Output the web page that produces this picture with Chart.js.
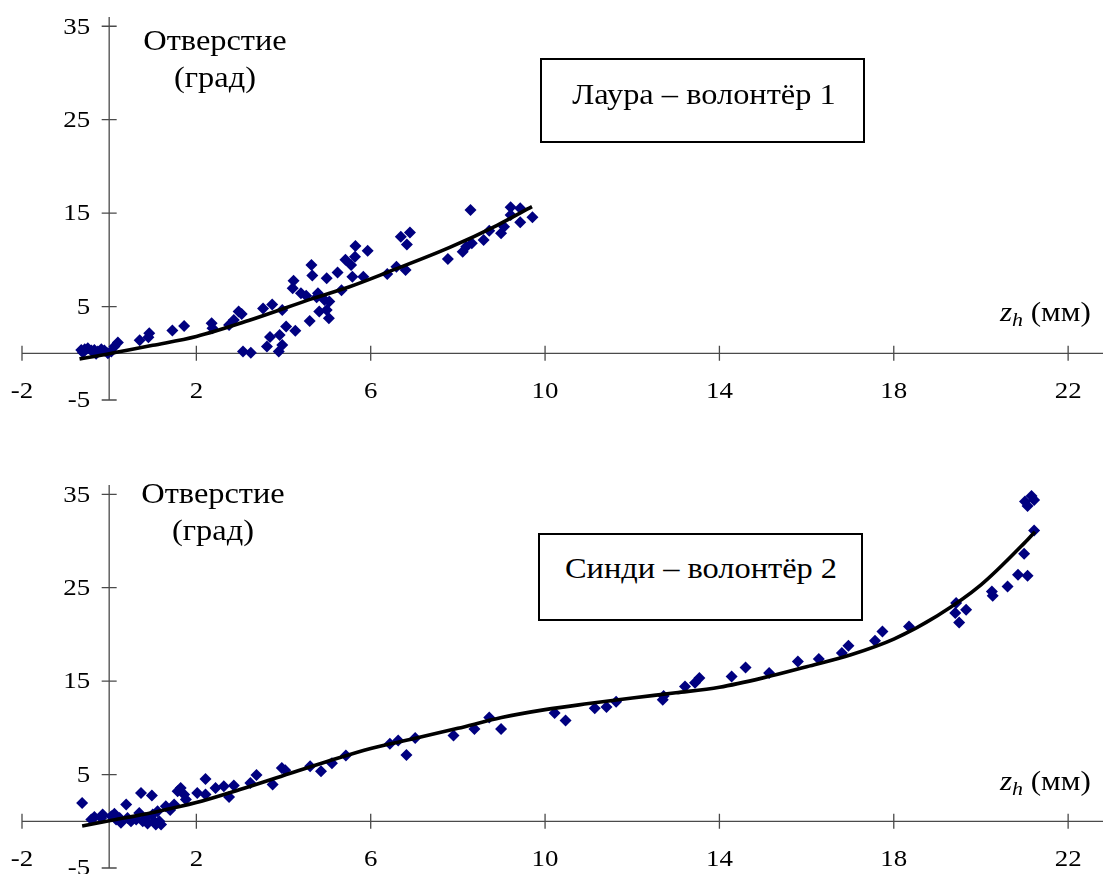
<!DOCTYPE html>
<html>
<head>
<meta charset="utf-8">
<script src="https://cdn.jsdelivr.net/npm/chart.js@4.4.1/dist/chart.umd.min.js"></script>
<style>
  html, body { margin:0; padding:0; background:#fff; }
  #wrap { position:relative; width:1109px; height:874px; overflow:hidden; font-family:"Liberation Serif","Times New Roman",serif; color:#000; }
  canvas { position:absolute; left:0; top:0; }
  .t { position:absolute; white-space:nowrap; text-align:center; font-size:30px; line-height:30px; transform:scaleX(1.08); transform-origin:50% 50%; }
  .box { position:absolute; box-sizing:border-box; border:2px solid #000; background:#fff; }
  .zl { position:absolute; white-space:nowrap; font-size:27px; line-height:27px; transform:scaleX(1.15); transform-origin:0 50%; }
  .zl i { font-style:italic; }
  .zl .sub { position:relative; top:5px; font-size:19px; font-style:italic; }
</style>
</head>
<body>
<div id="wrap">
  <canvas id="c1" width="1109" height="874"></canvas>
  <canvas id="c2" width="1109" height="874"></canvas>

  <div class="t" style="left:115px; top:24.9px; width:200px;">Отверстие</div>
  <div class="t" style="left:115px; top:61.9px; width:200px;">(град)</div>
  <div class="box" style="left:540px; top:58px; width:325px; height:85px;"></div>
  <div class="t" style="left:554px; top:78.9px; width:300px;">Лаура – волонтёр 1</div>
  <div class="zl" style="left:1000px; top:299.1px;"><i>z</i><span class="sub">h</span> (мм)</div>

  <div class="t" style="left:113px; top:477.9px; width:200px;">Отверстие</div>
  <div class="t" style="left:113px; top:514.9px; width:200px;">(град)</div>
  <div class="box" style="left:538px; top:533px; width:325px; height:88px;"></div>
  <div class="t" style="left:551px; top:552.9px; width:300px;">Синди – волонтёр 2</div>
  <div class="zl" style="left:1000px; top:768.4px;"><i>z</i><span class="sub">h</span> (мм)</div>
</div>
<script>
// ---- tick labels ----
const xTickValues = [-2, 2, 6, 10, 14, 18, 22];
const yTickValues = [-5, 5, 15, 25, 35];

// ---- Laura (volunteer 1) measured points [z_h mm, opening deg] ----
const lauraPoints = [
  [-0.64,0.36],[-0.6,0.08],[-0.56,0.44],[-0.49,0.54],[-0.41,0.29],[-0.34,0.36],[-0.3,-0.06],
  [-0.26,0.18],[-0.18,0.44],[-0.11,0.29],[-0.03,0.0],[0.05,0.18],[0.12,0.72],[0.2,1.15],
  [0.7,1.4],[0.9,1.72],[0.92,2.15],[1.45,2.45],[1.72,2.93],[2.35,3.22],[2.37,2.68],
  [2.75,3.04],[2.86,3.57],[2.97,4.46],[3.04,4.2],[3.07,0.18],[3.25,0.05],
  [3.53,4.78],[3.74,5.23],[3.97,4.64],[3.62,0.72],[3.69,1.75],[3.91,1.97],[3.97,0.9],[3.89,0.18],
  [4.06,2.86],[4.27,2.4],[4.23,7.75],[4.21,6.96],[4.64,9.45],[4.66,8.33],
  [4.4,6.43],[4.52,6.15],[4.6,3.45],[4.79,6.43],[4.76,6.0],[4.82,4.46],[4.94,5.71],[4.99,8.03],
  [4.99,4.64],[5.04,3.75],[5.05,5.53],[5.24,8.65],[5.33,6.75],[5.42,10.0],[5.55,9.45],
  [5.65,11.49],[5.64,10.34],[5.58,8.2],[5.83,8.2],[5.93,10.98],
  [6.38,8.49],[6.59,9.27],[6.8,8.92],[6.69,12.48],[6.9,12.93],[6.83,11.63],
  [7.77,10.1],[8.29,15.34],[8.11,10.88],[8.19,11.41],[8.32,11.77],[8.59,12.13],[8.72,13.12],
  [8.99,12.84],[9.06,13.55],[9.21,15.63],[9.21,14.8],[9.43,15.52],[9.43,14.02],[9.71,14.56]
];
// ---- Laura trend line ----
const lauraTrend = [
  [-0.68,-0.6],[0,-0.05],[1,0.85],[2,1.8],[3.2,3.5],[4.7,5.9],[5.5,7.1],[6.4,8.7],[7.8,11.3],[8.9,13.7],[9.7,15.7]
];

// ---- Cindy (volunteer 2) measured points ----
const cindyPoints = [
  [-0.62,1.97],[-0.41,0.18],[-0.34,0.47],[-0.18,0.36],[-0.15,0.72],[0.05,0.53],[0.16,0.18],[0.12,0.82],
  [0.24,0.36],[0.27,-0.17],[0.39,1.79],[0.42,0.36],[0.5,0.0],[0.62,0.18],[0.73,3.04],[0.69,0.9],
  [0.77,0.0],[0.84,0.36],[0.88,-0.25],[0.98,2.75],[1.0,0.72],[1.03,0.0],[1.07,-0.35],[1.15,0.0],
  [1.11,1.07],[1.19,-0.35],[1.3,1.6],[1.4,1.2],[1.49,1.79],[1.57,3.21],[1.64,3.57],[1.72,2.86],[1.76,2.32],
  [2.02,3.04],[2.21,4.53],[2.21,2.86],[2.44,3.57],[2.63,3.75],[2.75,2.61],[2.86,3.82],[3.24,4.1],[3.38,4.95],
  [3.75,3.93],[3.96,5.71],[4.04,5.46],[4.61,5.88],[4.86,5.35],[5.11,6.2],[5.43,7.05],
  [6.44,8.31],[6.63,8.66],[6.82,7.1],[7.02,8.92],[7.9,9.17],[8.38,9.88],[8.72,11.12],[8.99,9.88],
  [10.22,11.59],[10.47,10.8],[11.14,12.09],[11.41,12.24],[11.63,12.8],[12.7,13.02],[12.72,13.4],
  [13.21,14.44],[13.44,14.83],[13.54,15.34],[14.28,15.51],[14.6,16.47],[15.14,15.87],[15.8,17.11],
  [16.28,17.37],[16.81,18.01],[16.96,18.79],[17.57,19.33],[17.74,20.32],[18.35,20.86],
  [19.43,23.36],[19.41,22.29],[19.5,21.28],[19.66,22.64],[20.25,24.6],[20.27,24.14],[20.61,25.13],
  [20.85,26.39],[21.07,26.28],[20.99,28.63],[21.22,31.12],[21.01,34.22],[21.16,34.83],[21.07,33.76],[21.22,34.4]
];
// ---- Cindy trend line ----
const cindyTrend = [
  [-0.62,-0.5],[0,0.05],[1,0.95],[2,2.0],[3,3.4],[4,4.9],[5,6.4],[6,7.8],[7,8.85],[8,9.95],[9,11.1],
  [10,11.95],[11,12.6],[12,13.2],[13,13.75],[14,14.35],[15,15.35],[16,16.55],[17,17.8],[18,19.5],
  [19,22.0],[20,25.3],[21,29.8],[21.24,31.0]
];

const axisColor = '#4a4a4a';
const tickFont = '24px "Liberation Serif", "Times New Roman", serif';
const tickStretch = 1.12;

function drawStretched(ctx, text, x, y) {
  ctx.save();
  ctx.translate(x, y);
  ctx.scale(tickStretch, 1);
  ctx.fillText(text, 0, 0);
  ctx.restore();
}

function crossAxes() {
  return {
    id: 'crossAxes',
    beforeDatasetsDraw(chart) {
      const ctx = chart.ctx, xs = chart.scales.x, ys = chart.scales.y;
      const x0 = xs.getPixelForValue(0), y0 = ys.getPixelForValue(0);
      ctx.save();
      ctx.strokeStyle = axisColor;
      ctx.lineWidth = 1.3;
      ctx.beginPath();
      ctx.moveTo(xs.getPixelForValue(xTickValues[0]), y0);
      ctx.lineTo(xs.right, y0);
      ctx.moveTo(x0, ys.getPixelForValue(yTickValues[0]));
      ctx.lineTo(x0, ys.top);
      xTickValues.forEach(v => {
        const p = xs.getPixelForValue(v);
        ctx.moveTo(p, y0 - 7.5); ctx.lineTo(p, y0 + 7.5);
      });
      yTickValues.forEach(v => {
        const p = ys.getPixelForValue(v);
        ctx.moveTo(x0 - 7.5, p); ctx.lineTo(x0 + 7.5, p);
      });
      ctx.stroke();
      ctx.fillStyle = '#000';
      ctx.font = tickFont;
      ctx.textAlign = 'center';
      ctx.textBaseline = 'alphabetic';
      xTickValues.forEach(v => {
        drawStretched(ctx, String(v), xs.getPixelForValue(v), y0 + 45);
      });
      ctx.textAlign = 'right';
      ctx.textBaseline = 'middle';
      yTickValues.forEach(v => {
        drawStretched(ctx, String(v), x0 - 19, ys.getPixelForValue(v) + 1);
      });
      ctx.restore();
    }
  };
}

function makeChart(id, points, trend, padding) {
  return new Chart(document.getElementById(id), {
    data: {
      datasets: [
        {
          type: 'line', data: trend.map(p => ({x: p[0], y: p[1]})),
          borderColor: '#000', borderWidth: 3.6, pointRadius: 0, fill: false,
          cubicInterpolationMode: 'monotone', order: 0, clip: false
        },
        {
          type: 'scatter', data: points.map(p => ({x: p[0], y: p[1]})),
          pointStyle: 'rectRot', radius: 6, backgroundColor: '#000080',
          borderColor: '#000080', borderWidth: 0, order: 1, clip: false
        }
      ]
    },
    options: {
      responsive: false, animation: false, devicePixelRatio: 1,
      layout: { padding: padding },
      plugins: { legend: { display: false }, tooltip: { enabled: false } },
      events: [],
      scales: {
        x: { type: 'linear', min: -2, max: 22.8, display: false },
        y: { type: 'linear', min: -5, max: 36, display: false }
      }
    },
    plugins: [crossAxes()]
  });
}

makeChart('c1', lauraPoints, lauraTrend, { left: 22, right: 1, top: 16.93, bottom: 474 });
makeChart('c2', cindyPoints, cindyTrend, { left: 22, right: 1, top: 484.95, bottom: 5.7 });
</script>
</body>
</html>
